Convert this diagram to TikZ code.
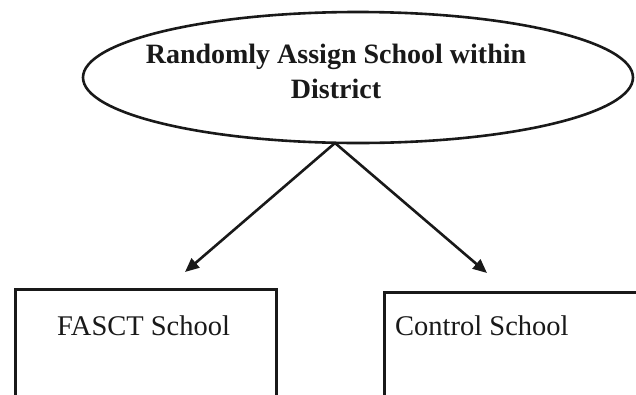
\documentclass[tikz,border=0pt]{standalone}
\usepackage{fontspec}
\setmainfont{Liberation Serif}
\usetikzlibrary{arrows.meta,shapes.geometric}
\tikzset{
  ellbox/.style={draw=black!90, line width=2.6pt, ellipse, inner sep=0pt},
  schoolbox/.style={draw=black!90, line width=3.2pt, rectangle, inner sep=0pt, anchor=north west},
  titletext/.style={anchor=base, inner sep=0pt, font=\bfseries\fontsize{28}{34}\selectfont, text=black!90},
  labeltext/.style={anchor=base west, inner sep=0pt, font=\fontsize{28.5}{34}\selectfont, text=black!90},
  conn/.style={draw=black!90, line width=2.6pt, -{Triangle[length=14pt,width=12pt]}}
}
\begin{document}
\begin{tikzpicture}[x=1pt,y=-1pt]
\clip (0,0) rectangle (636,394);
\fill[white] (0,0) rectangle (636,394);
\node[ellbox, minimum width=550pt, minimum height=131pt] (ell) at (358,77.5) {};
\node[titletext] (t1) at (336,63) {Randomly Assign School within};
\node[titletext] (t2) at (336,98) {District};
\coordinate (apex) at (335,143);
\node[schoolbox, minimum width=261pt, minimum height=140pt] (fasct) at (14,288) {};
\node[schoolbox, minimum width=280pt, minimum height=140pt] (ctrl) at (383,291) {};
\node[labeltext] (fl) at (57,335) {FASCT School};
\node[labeltext] (cl) at (395,335) {Control School};
\coordinate (e1) at (185,272);
\coordinate (e2) at (487,273);
\draw[conn] (apex) -- (e1);
\draw[conn] (apex) -- (e2);
\end{tikzpicture}
\end{document}
